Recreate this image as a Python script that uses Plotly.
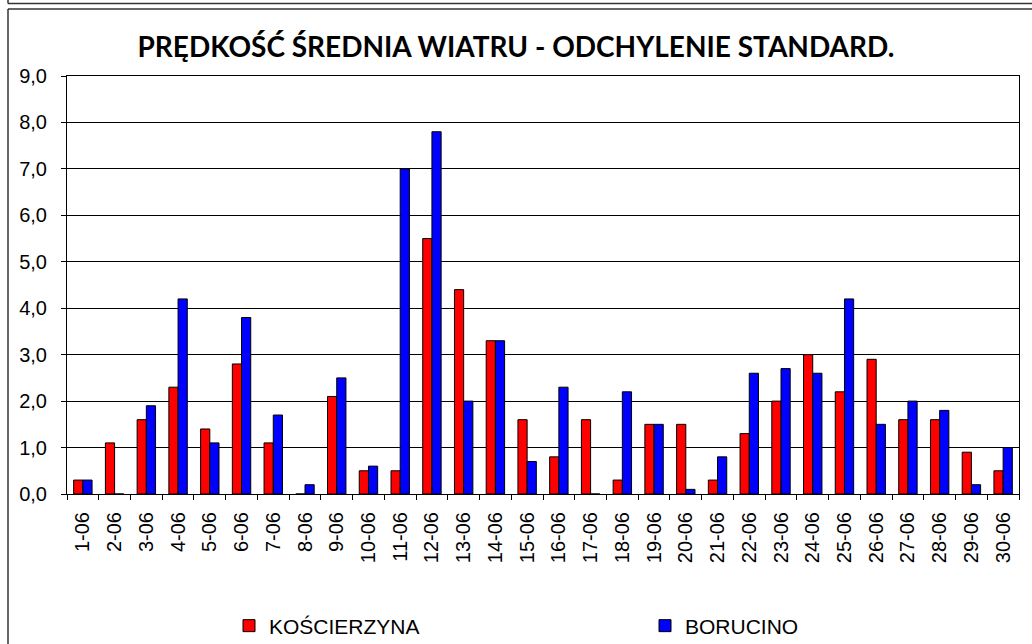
import plotly.graph_objects as go

days = [f"{d}-06" for d in range(1, 31)]
koscierzyna = [0.3, 1.1, 1.6, 2.3, 1.4, 2.8, 1.1, 0.0, 2.1, 0.5,
               0.5, 5.5, 4.4, 3.3, 1.6, 0.8, 1.6, 0.3, 1.5, 1.5,
               0.3, 1.3, 2.0, 3.0, 2.2, 2.9, 1.6, 1.6, 0.9, 0.5]
borucino = [0.3, 0.0, 1.9, 4.2, 1.1, 3.8, 1.7, 0.2, 2.5, 0.6,
            7.0, 7.8, 2.0, 3.3, 0.7, 2.3, 0.0, 2.2, 1.5, 0.1,
            0.8, 2.6, 2.7, 2.6, 4.2, 1.5, 2.0, 1.8, 0.2, 1.0]
y_ticks = [0, 1, 2, 3, 4, 5, 6, 7, 8, 9]
title_text = "PRĘDKOŚĆ ŚREDNIA WIATRU - ODCHYLENIE STANDARD."

W, H = 1032, 644
L, R, T, B = 67, 13, 76, 150
pw, ph = W - L - R, H - T - B


def px_x(x):
    return (x - L) / pw


def px_y(y):
    return (H - B - y) / ph


fig = go.Figure()
fig.add_trace(go.Bar(x=days, y=koscierzyna, name="KOŚCIERZYNA", legend="legend",
                     marker=dict(color="#ff0000", line=dict(color="black", width=1))))
fig.add_trace(go.Bar(x=days, y=borucino, name="BORUCINO", legend="legend2",
                     marker=dict(color="#0000ff", line=dict(color="black", width=1))))

legend_font = dict(family="Liberation Sans, Arial", size=21, color="black")
frame = dict(color="#333333", width=1.5)

fig.update_layout(
    width=W, height=H,
    margin=dict(l=L, r=R, t=T, b=B, autoexpand=False),
    paper_bgcolor="white", plot_bgcolor="white",
    separators=", ",
    barmode="group", bargap=0.42, bargroupgap=0,
    title=dict(text=f"<b>{title_text}</b>", x=0.5, xanchor="center",
               y=1 - 47 / H, yanchor="middle",
               font=dict(family="Lato", size=28, color="black")),
    font=dict(family="Liberation Sans, Arial", color="black"),
    showlegend=True,
    legend=dict(x=px_x(229), xanchor="left", y=px_y(626), yanchor="middle",
                font=legend_font, itemwidth=30, bgcolor="rgba(0,0,0,0)"),
    legend2=dict(x=px_x(645), xanchor="left", y=px_y(626), yanchor="middle",
                 font=legend_font, itemwidth=30, bgcolor="rgba(0,0,0,0)"),
    xaxis=dict(type="category", tickangle=-90, ticks="outside", ticklen=5,
               tickson="boundaries", tickcolor="black", showline=True,
               linecolor="black", linewidth=1, mirror=True, showgrid=False,
               automargin=False, ticklabelstandoff=9,
               tickfont=dict(family="Liberation Sans, Arial", size=20)),
    yaxis=dict(range=[0, 9], tickvals=y_ticks, tickformat=".1f", ticks="outside",
               ticklen=5, tickcolor="black", showline=True, linecolor="black",
               linewidth=1, mirror=True, showgrid=True, gridcolor="black",
               gridwidth=1, zeroline=False, automargin=False,
               ticklabelstandoff=10,
               tickfont=dict(family="Liberation Sans, Arial", size=20)),
    shapes=[
        dict(type="line", xref="paper", yref="paper",
             x0=px_x(8), x1=px_x(1032), y0=px_y(3.5), y1=px_y(3.5), line=frame),
        dict(type="line", xref="paper", yref="paper",
             x0=px_x(8), x1=px_x(8), y0=px_y(-5), y1=px_y(3.5), line=frame),
        dict(type="line", xref="paper", yref="paper",
             x0=px_x(8), x1=px_x(1032), y0=px_y(9), y1=px_y(9), line=frame),
        dict(type="line", xref="paper", yref="paper",
             x0=px_x(8), x1=px_x(8), y0=px_y(9), y1=px_y(650), line=frame),
    ],
)

fig.write_html("out.html", config={"displayModeBar": False},
               post_script="document.body.style.margin='0';document.body.style.overflow='hidden';")
